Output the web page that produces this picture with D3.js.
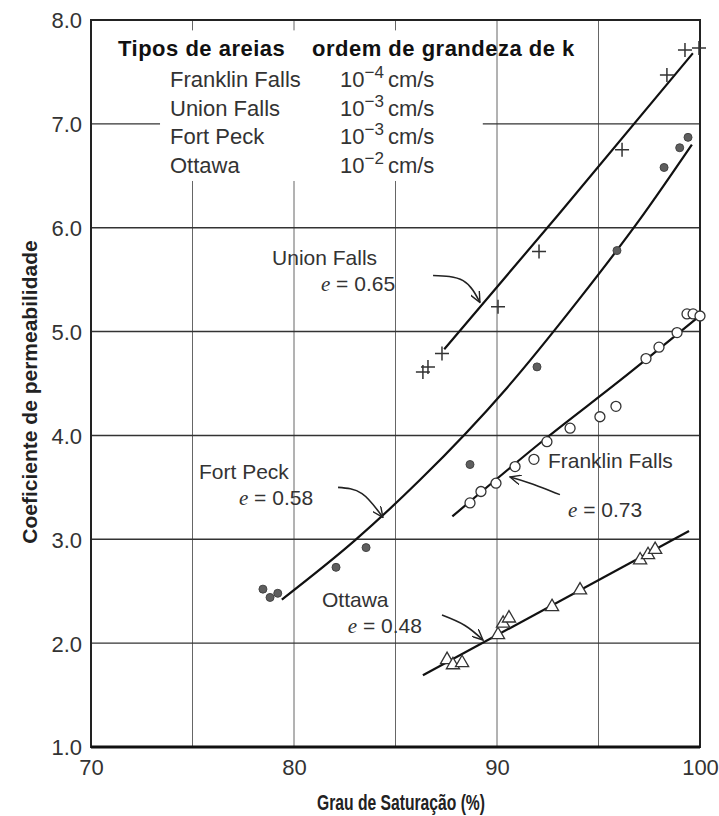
<html>
<head>
<meta charset="utf-8">
<title>Coeficiente de permeabilidade</title>
<style>
    body{ margin:0; background:#fff; }
    svg text{ font-family:"Liberation Sans", Arial, sans-serif; }
    .grid-v{ stroke:#666; stroke-width:1; }
    .grid-h{ stroke:#333; stroke-width:1.4; }
    .curve{ fill:none; stroke:#111; stroke-width:2.2; }
    .tick text{ fill:#333; font-size:22px; }
    .lbl{ fill:#333; font-size:22px; }
    .note{ fill:#333; font-size:21px; }
    .arrow{ fill:none; stroke:#222; stroke-width:1.6; }
</style>
</head>
<body>
<script src="https://cdn.jsdelivr.net/npm/d3@7"></script>
<script>
var width = 719, height = 816;
var margin = {top:20, right:19, bottom:69, left:91};

// axes
var xDomain = [70, 100], yDomain = [1, 8];
var xTicks = [70, 80, 90, 100];
var yTicks = [1, 2, 3, 4, 5, 6, 7, 8];
var xGrid = [75, 80, 85, 90, 95];
var yGrid = [2, 3, 4, 5, 6, 7];

// Union Falls (+)
var unionFallsPts = [[86.35,4.61],[86.6,4.66],[87.29,4.79],[90.05,5.24],[92.07,5.77],[96.16,6.75],[98.37,7.47],[99.26,7.71],[99.95,7.73]];
var unionFallsCurve = [[87.4,4.83],[93.0,6.12],[99.65,7.68]];

// Fort Peck (filled circles)
var fortPeckPts = [[78.47,2.52],[78.82,2.44],[79.2,2.48],[82.07,2.73],[83.55,2.92],[88.67,3.72],[91.97,4.66],[95.91,5.78],[98.23,6.58],[99.0,6.77],[99.41,6.87]];
var fortPeckCurve = [[79.4,2.42],[83.0,2.99],[86.2,3.57],[90.5,4.46],[94.0,5.3],[97.0,6.07],[99.6,6.8]];

// Franklin Falls (open circles)
var franklinPts = [[88.67,3.35],[89.21,3.46],[89.95,3.54],[90.89,3.70],[91.82,3.77],[92.46,3.94],[93.6,4.07],[95.07,4.18],[95.86,4.28],[97.34,4.74],[97.98,4.85],[98.87,4.99],[99.36,5.17],[99.66,5.17],[100.0,5.15]];
var franklinCurve = [[87.8,3.22],[92.46,3.98],[96.06,4.53],[99.85,5.13]];

// Ottawa (triangles)
var ottawaPts = [[87.54,1.84],[87.83,1.79],[88.28,1.81],[90.05,2.08],[90.3,2.19],[90.59,2.24],[92.71,2.35],[94.09,2.51],[97.05,2.80],[97.44,2.85],[97.79,2.90]];
var ottawaCurve = [[86.35,1.69],[99.46,3.08]];

// legend table
var sandNames = ["Franklin Falls", "Union Falls", "Fort Peck", "Ottawa"];
var kExponents = ["\u22124", "\u22123", "\u22123", "\u22122"];

// curve labels: name, e value, name pos, e pos, arrow path
var labels = [
    {name:"Union Falls", e:"0.65", at:[78.92,5.64], eAt:[84.98,5.39], anchor:"end",
     arrow:[[86.85,5.54],[88.33,5.49],[89.16,5.28]]},
    {name:"Fort Peck", e:"0.58", at:[75.32,3.58], eAt:[80.94,3.33], anchor:"end",
     arrow:[[82.17,3.50],[83.35,3.44],[84.38,3.21]]},
    {name:"Franklin Falls", e:"0.73", at:[92.51,3.69], eAt:[93.5,3.21], anchor:"start",
     arrow:[[93.1,3.43],[91.63,3.54],[90.64,3.60]]},
    {name:"Ottawa", e:"0.48", at:[81.38,2.35], eAt:[86.3,2.10], anchor:"end",
     arrow:[[87.29,2.27],[88.42,2.17],[89.31,2.03]]}
];

var svg = d3.select("body").append("svg")
    .attr("width", width)
    .attr("height", height);

var x = d3.scaleLinear().domain(xDomain).range([margin.left, width - margin.right]);
var y = d3.scaleLinear().domain(yDomain).range([height - margin.bottom, margin.top]);

svg.append("defs").append("marker")
    .attr("id", "head")
    .attr("viewBox", "0 0 12 10")
    .attr("refX", 11).attr("refY", 5)
    .attr("markerWidth", 12).attr("markerHeight", 10)
    .attr("markerUnits", "userSpaceOnUse")
    .attr("orient", "auto")
  .append("path")
    .attr("d", "M0,0 L11,5 L0,10")
    .attr("fill", "none")
    .attr("stroke", "#222")
    .attr("stroke-width", 1.4);

// grid
svg.selectAll(".grid-v").data(xGrid).enter().append("line")
    .attr("class", "grid-v")
    .attr("x1", function(d){ return x(d); }).attr("x2", function(d){ return x(d); })
    .attr("y1", y(8)).attr("y2", y(1));
svg.selectAll(".grid-h").data(yGrid).enter().append("line")
    .attr("class", "grid-h")
    .attr("x1", x(70)).attr("x2", x(100))
    .attr("y1", function(d){ return y(d); }).attr("y2", function(d){ return y(d); });

// white box behind the legend table
svg.append("rect")
    .attr("x", x(73.4)).attr("y", y(7.9))
    .attr("width", x(89.3) - x(73.4))
    .attr("height", y(6.45) - y(7.9))
    .attr("fill", "#fff");

// frame
svg.append("rect")
    .attr("x", x(70)).attr("y", y(8))
    .attr("width", x(100) - x(70)).attr("height", y(1) - y(8))
    .attr("fill", "none").attr("stroke", "#222").attr("stroke-width", 2);
svg.append("line")
    .attr("x1", x(70)).attr("x2", x(100)).attr("y1", y(1)).attr("y2", y(1))
    .attr("stroke", "#111").attr("stroke-width", 3);

// axes
var yAxis = d3.axisLeft(y).tickValues(yTicks).tickFormat(d3.format(".1f")).tickSize(0).tickPadding(9);
var gy = svg.append("g").attr("transform", "translate(" + x(70) + ",0)").call(yAxis);
gy.select(".domain").remove();
gy.selectAll("text").attr("dy", "0.36em");

var xAxis = d3.axisBottom(x).tickValues(xTicks).tickFormat(d3.format("d")).tickSize(0).tickPadding(12);
var gx = svg.append("g").attr("transform", "translate(0," + y(1) + ")").call(xAxis);
gx.select(".domain").remove();
gx.selectAll("text").attr("dy", "0.71em");

svg.append("text")
    .attr("x", 401).attr("y", 810)
    .attr("text-anchor", "middle")
    .attr("font-weight", "bold").attr("font-size", 22).attr("fill", "#222")
    .attr("textLength", 168).attr("lengthAdjust", "spacingAndGlyphs")
    .text("Grau de Saturação (%)");

svg.append("text")
    .attr("transform", "translate(37," + 392 + ") rotate(-90)")
    .attr("text-anchor", "middle")
    .attr("font-weight", "bold").attr("font-size", 21).attr("fill", "#222")
    .text("Coeficiente de permeabilidade");

// curves
var line = d3.line()
    .x(function(d){ return x(d[0]); })
    .y(function(d){ return y(d[1]); })
    .curve(d3.curveMonotoneX);
[unionFallsCurve, fortPeckCurve, franklinCurve, ottawaCurve].forEach(function(c){
    svg.append("path").attr("class", "curve").attr("d", line(c));
});

// points
svg.selectAll(".plus").data(unionFallsPts).enter().append("path")
    .attr("class", "plus")
    .attr("d", function(d){
        var cx = x(d[0]), cy = y(d[1]), s = 7;
        return "M" + (cx - s) + "," + cy + "H" + (cx + s) + "M" + cx + "," + (cy - s) + "V" + (cy + s);
    })
    .attr("stroke", "#333").attr("stroke-width", 1.5).attr("fill", "none");

svg.selectAll(".fp").data(fortPeckPts).enter().append("circle")
    .attr("class", "fp")
    .attr("cx", function(d){ return x(d[0]); })
    .attr("cy", function(d){ return y(d[1]); })
    .attr("r", 4)
    .attr("fill", "#5e5e5e").attr("stroke", "#444").attr("stroke-width", 1);

svg.selectAll(".ff").data(franklinPts).enter().append("circle")
    .attr("class", "ff")
    .attr("cx", function(d){ return x(d[0]); })
    .attr("cy", function(d){ return y(d[1]); })
    .attr("r", 5)
    .attr("fill", "#fff").attr("stroke", "#333").attr("stroke-width", 1.3);

var tri = d3.symbol().type(d3.symbolTriangle).size(75);
svg.selectAll(".ot").data(ottawaPts).enter().append("path")
    .attr("class", "ot")
    .attr("transform", function(d){ return "translate(" + x(d[0]) + "," + y(d[1]) + ")"; })
    .attr("d", tri)
    .attr("fill", "#fff").attr("stroke", "#333").attr("stroke-width", 1.3);

// curve labels
var arrowLine = d3.line()
    .x(function(d){ return x(d[0]); })
    .y(function(d){ return y(d[1]); })
    .curve(d3.curveNatural);
labels.forEach(function(l){
    svg.append("text").attr("class", "note")
        .attr("x", x(l.at[0])).attr("y", y(l.at[1]))
        .text(l.name);
    var t = svg.append("text").attr("class", "note")
        .attr("x", x(l.eAt[0])).attr("y", y(l.eAt[1]))
        .attr("text-anchor", l.anchor);
    t.append("tspan").attr("font-family", "Liberation Serif, serif").attr("font-style", "italic").text("e");
    t.append("tspan").text(" = " + l.e);
    svg.append("path").attr("class", "arrow")
        .attr("d", arrowLine(l.arrow))
        .attr("marker-end", "url(#head)");
});

// legend table
svg.append("text").attr("x", 118).attr("y", 56)
    .attr("font-weight", "bold").attr("font-size", 22).attr("fill", "#111")
    .attr("letter-spacing", 0.5)
    .text("Tipos de areias");
svg.append("text").attr("x", 312).attr("y", 56)
    .attr("font-weight", "bold").attr("font-size", 22).attr("fill", "#111")
    .attr("letter-spacing", 0.5)
    .text("ordem de grandeza de k");

sandNames.forEach(function(n, i){
    var by = 87 + i * 28.7;
    svg.append("text").attr("class", "lbl").attr("x", 170).attr("y", by).text(n);
    var t = svg.append("text").attr("class", "lbl").attr("x", 340).attr("y", by);
    t.append("tspan").text("10");
    t.append("tspan").attr("dy", -9).attr("font-size", 17).text(kExponents[i]);
    t.append("tspan").attr("dy", 9).attr("dx", 4).text("cm/s");
});
</script>
</body>
</html>
